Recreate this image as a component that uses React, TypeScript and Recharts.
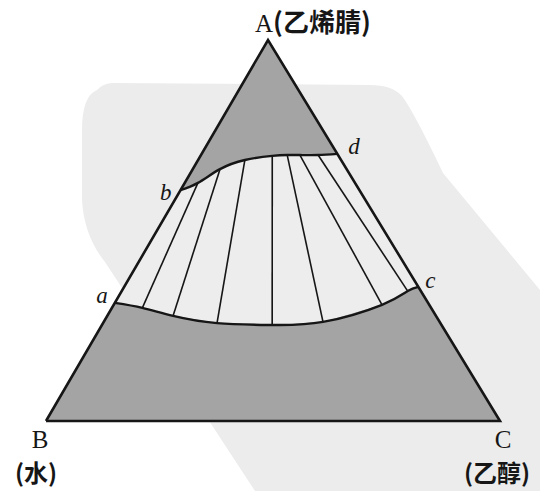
import React from 'react';
import { ComposedChart, Area, Line, Scatter, XAxis, YAxis } from 'recharts';

// Ternary compositions (mass fractions). A = 乙烯腈, C = 乙醇, B = 水 = 1 - A - C
const vertexKeys = ['A', 'B', 'C'];
const vertexNames = ['乙烯腈', '水', '乙醇'];
const vertexA = [1, 0, 0];
const vertexC = [0, 0, 1];

// Upper (A-rich) branch of the binodal curve, from b to d
const upperA = [0.606, 0.625, 0.661, 0.685, 0.696, 0.698, 0.698, 0.698, 0.701];
const upperC = [0.0, 0.029, 0.06, 0.103, 0.158, 0.19, 0.218, 0.258, 0.299];
// Lower (water-rich) branch of the binodal curve, from a to c
const lowerA = [0.31, 0.297, 0.276, 0.257, 0.252, 0.26, 0.305, 0.341, 0.352];
const lowerC = [0.0, 0.067, 0.145, 0.251, 0.375, 0.483, 0.591, 0.63, 0.648];
// Tie lines: index on upper branch -> index on lower branch
const tieUpper = [1, 2, 3, 4, 5, 6, 7];
const tieLower = [1, 2, 3, 4, 5, 6, 7];
// Named points on the curve
const pointNames = ['a', 'b', 'c', 'd'];

// ---- layout / geometry (not data) ----
const W = 540;
const H = 491;
const APEX_X = 0.489;
const X_DOMAIN: [number, number] = [-46 / 454, 494 / 454];
const Y_DOMAIN: [number, number] = [-70 / 381, 421 / 381];
const GRAY = '#a4a4a4';
const MID = '#ededed';
const INK = '#161616';

const toXY = (a: number, c: number) => ({ x: c + a * APEX_X, y: a });

const V = vertexKeys.map((k, i) => ({ ...toXY(vertexA[i], vertexC[i]), key: k, name: vertexNames[i] }));
const vA = V[0];
const vB = V[1];
const vC = V[2];
const upper = upperA.map((a, i) => toXY(a, upperC[i]));
const lower = lowerA.map((a, i) => toXY(a, lowerC[i]));
const ptA = lower[0];
const ptB = upper[0];
const ptC = lower[lower.length - 1];
const ptD = upper[upper.length - 1];

const triangleFill = [vB, vA, vC];
const triangleOutline = [vB, vA, vC, vB];
const midUpperBoundary = [ptA, ...upper, ptC];
const lowerRegion = [vB, ...lower, vC];
const ties = tieUpper.map((u, i) => [upper[u], lower[tieLower[i]]]);
const namedPoints = [ptA, ptB, ptC, ptD].map((p, i) => ({ ...p, name: pointNames[i] }));

const pointLabelStyle: Record<string, { dx: number; dy: number; anchor: 'start' | 'end' }> = {
  a: { dx: -7, dy: 0, anchor: 'end' },
  b: { dx: -9, dy: 10, anchor: 'end' },
  c: { dx: 7, dy: 1, anchor: 'start' },
  d: { dx: 11, dy: 0, anchor: 'start' },
};

const SERIF = "'Liberation Serif', serif";
const CJK = "'Noto Sans CJK SC', sans-serif";

const PointLabel = (props: any) => {
  const { cx, cy, payload } = props;
  const s = pointLabelStyle[payload.name];
  return (
    <text
      x={cx + s.dx}
      y={cy + s.dy}
      textAnchor={s.anchor}
      fontFamily={SERIF}
      fontStyle="italic"
      fontSize={23}
      fill={INK}
    >
      {payload.name}
    </text>
  );
};

const VertexLabel = (props: any) => {
  const { cx, cy, payload } = props;
  if (payload.key === 'A') {
    return (
      <text x={cx - 13} y={cy - 8} textAnchor="start" fontSize={25} fill={INK}>
        <tspan fontFamily={SERIF}>A</tspan>
        <tspan fontFamily={CJK} fontWeight={700} fontSize={26}>{`(${payload.name})`}</tspan>
      </text>
    );
  }
  const isB = payload.key === 'B';
  return (
    <g>
      <text x={cx + (isB ? -6 : 3)} y={cy + 27} textAnchor="middle" fontFamily={SERIF} fontSize={25} fill={INK}>
        {payload.key}
      </text>
      <text x={cx + (isB ? -10 : -3)} y={cy + 61} textAnchor="middle" fontFamily={CJK} fontWeight={700} fontSize={24} fill={INK}>
        {`(${payload.name})`}
      </text>
    </g>
  );
};

export default function App() {
  return (
    <div style={{ position: 'relative', width: W, height: H, background: '#fff' }}>
      <style>{`body{margin:0}`}</style>
      <svg width={W} height={H} style={{ position: 'absolute', left: 0, top: 0 }}>
        <path
          d="M97,90 Q82,96 82,130 L82,200 Q84,236 105,262 L255,491 L540,491 L540,290 L443,173 Q414,112 402,96 Q392,85 370,85 L112,83 Q102,84 97,90 Z"
          fill="#ececec"
        />
      </svg>
      <div style={{ position: 'absolute', left: 0, top: 0 }}>
        <ComposedChart width={W} height={H} margin={{ top: 0, right: 0, bottom: 0, left: 0 }}>
          <XAxis dataKey="x" type="number" domain={X_DOMAIN} allowDataOverflow hide />
          <YAxis dataKey="y" type="number" domain={Y_DOMAIN} allowDataOverflow hide />
          <Area data={triangleFill} dataKey="y" type="linear" baseValue={0} fill={GRAY} fillOpacity={1} stroke="none" isAnimationActive={false} dot={false} activeDot={false} />
          <Area data={midUpperBoundary} dataKey="y" type="linear" baseValue={0} fill={MID} fillOpacity={1} stroke="none" isAnimationActive={false} dot={false} activeDot={false} />
          <Area data={lowerRegion} dataKey="y" type="linear" baseValue={0} fill={GRAY} fillOpacity={1} stroke="none" isAnimationActive={false} dot={false} activeDot={false} />
          {ties.map((t, i) => (
            <Line key={`tie${i}`} data={t} dataKey="y" type="linear" stroke={INK} strokeWidth={1.6} dot={false} activeDot={false} isAnimationActive={false} />
          ))}
          <Line data={upper} dataKey="y" type="natural" stroke={INK} strokeWidth={2.4} dot={false} activeDot={false} isAnimationActive={false} />
          <Line data={lower} dataKey="y" type="natural" stroke={INK} strokeWidth={2.4} dot={false} activeDot={false} isAnimationActive={false} />
          <Line data={triangleOutline} dataKey="y" type="linear" stroke={INK} strokeWidth={2.6} strokeLinejoin="miter" dot={false} activeDot={false} isAnimationActive={false} />
          <Scatter data={namedPoints} dataKey="y" shape={PointLabel} isAnimationActive={false} />
          <Scatter data={V} dataKey="y" shape={VertexLabel} isAnimationActive={false} />
        </ComposedChart>
      </div>
    </div>
  );
}
